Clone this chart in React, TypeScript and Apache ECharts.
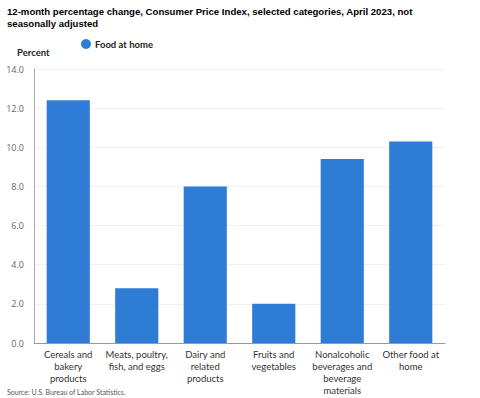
import React, { useEffect, useRef } from "react";
import * as echarts from "echarts";

const categories = [
  "Cereals and\nbakery\nproducts",
  "Meats, poultry,\nfish, and eggs",
  "Dairy and\nrelated\nproducts",
  "Fruits and\nvegetables",
  "Nonalcoholic\nbeverages and\nbeverage\nmaterials",
  "Other food at\nhome",
];
const foodAtHome = [12.4, 2.8, 8.0, 2.0, 9.4, 10.3];
const seriesName = "Food at home";
const titleText =
  "12-month percentage change, Consumer Price Index, selected categories, April 2023, not\nseasonally adjusted";
const yAxisTitle = "Percent";
const sourceText = "Source: U.S. Bureau of Labor Statistics.";

const FONT = "Lato, 'Open Sans', sans-serif";

export default function App() {
  const ref = useRef<HTMLDivElement>(null);
  useEffect(() => {
    if (!ref.current) return;
    const chart = echarts.init(ref.current, undefined, { renderer: "svg" });
    chart.setOption({
      animation: false,
      backgroundColor: "#ffffff",
      title: {
        text: titleText,
        left: 7,
        top: 5,
        padding: 0,
        textStyle: {
          fontFamily: "'Liberation Sans', Arial, sans-serif",
          fontSize: 9.6,
          fontWeight: "bold",
          color: "#000",
          lineHeight: 12,
        },
      },
      legend: {
        data: [seriesName],
        left: 81,
        top: 39,
        padding: 0,
        icon: "circle",
        itemWidth: 10,
        itemHeight: 10,
        itemGap: 5,
        textStyle: {
          fontFamily: FONT,
          fontSize: 9.5,
          fontWeight: "bold",
          color: "#222",
          padding: [0, 0, 0, -1],
        },
      },
      graphic: [
        {
          type: "text",
          left: 17,
          top: 47,
          style: {
            text: yAxisTitle,
            font: `bold 9.5px ${FONT}`,
            fill: "#222",
          },
        },
        {
          type: "text",
          left: 7,
          top: 388,
          style: {
            text: sourceText,
            font: `7px ${FONT}`,
            fill: "#555",
          },
        },
      ],
      grid: {
        left: 34,
        right: 35,
        top: 69,
        bottom: 55,
        containLabel: false,
      },
      xAxis: {
        type: "category",
        data: categories,
        axisLine: { show: true, lineStyle: { color: "#999", width: 1 } },
        axisTick: { show: false },
        axisLabel: {
          interval: 0,
          margin: 6,
          fontFamily: FONT,
          fontSize: 9.5,
          lineHeight: 11.8,
          color: "#333",
        },
      },
      yAxis: {
        type: "value",
        min: 0,
        max: 14,
        interval: 2,
        axisLine: { show: true, lineStyle: { color: "#aaa", width: 1 } },
        axisTick: { show: false },
        splitLine: { show: true, lineStyle: { color: "#f0f0f0", width: 1 } },
        axisLabel: {
          margin: 10,
          fontFamily: "'Open Sans', sans-serif",
          fontSize: 9,
          color: "#666",
          formatter: (v: number) => v.toFixed(1),
        },
      },
      series: [
        {
          name: seriesName,
          type: "bar",
          data: foodAtHome,
          barCategoryGap: "37%",
          itemStyle: { color: "#2e7cd6" },
        },
      ],
    });
    return () => chart.dispose();
  }, []);
  return (
    <div
      ref={ref}
      style={{ position: "fixed", left: 0, top: 0, width: 480, height: 398 }}
    />
  );
}
